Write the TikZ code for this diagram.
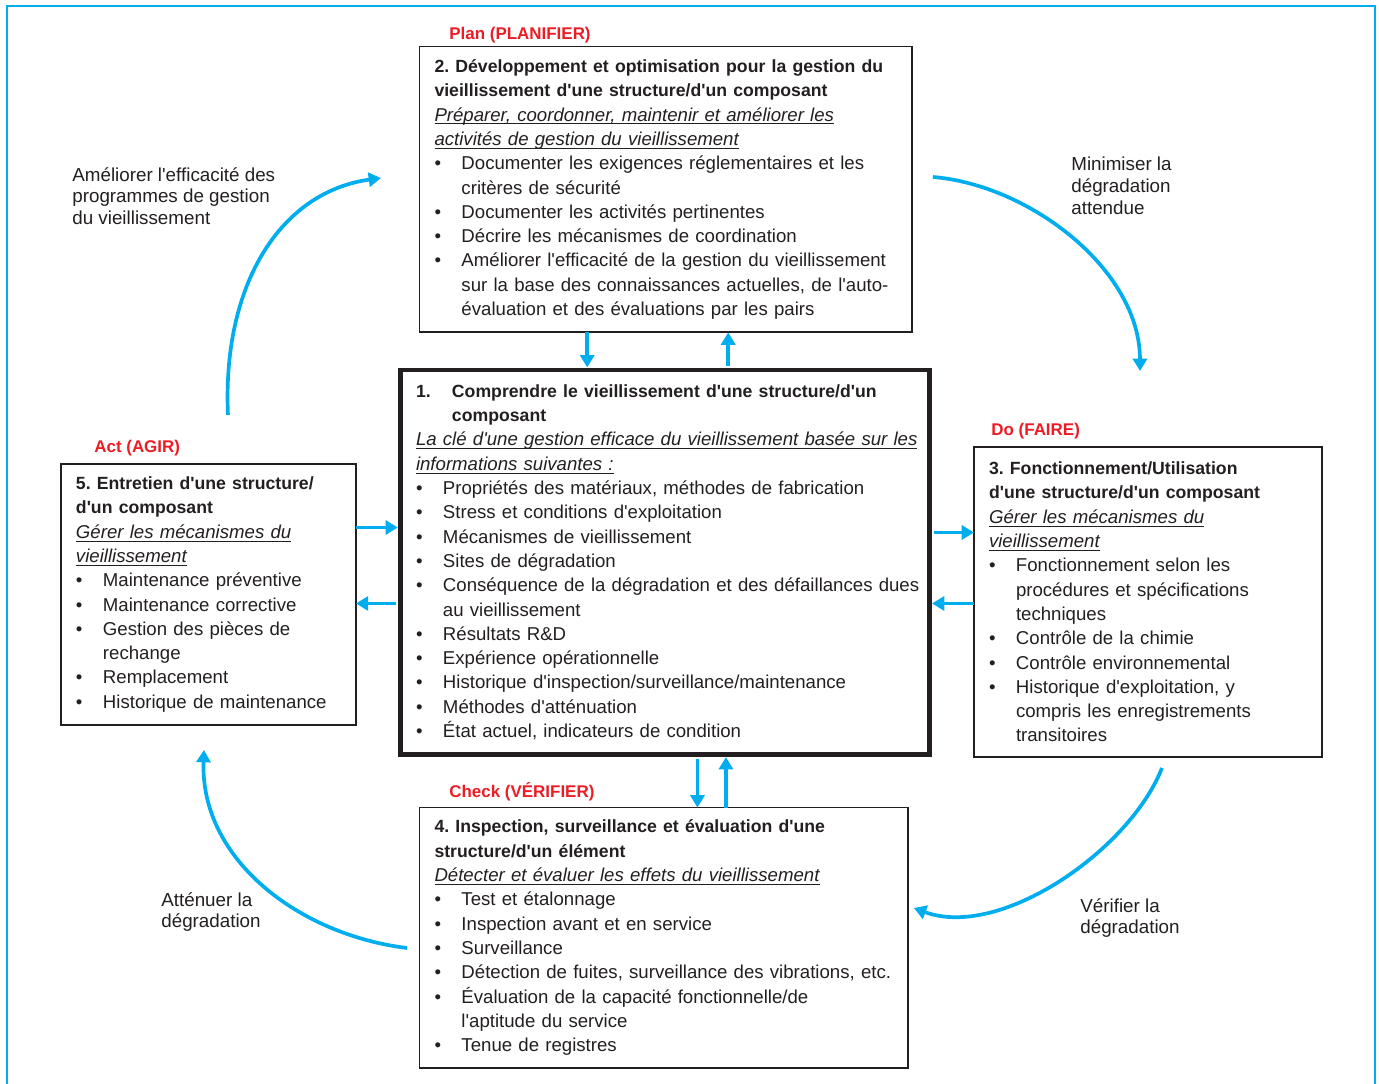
\documentclass[tikz,border=0pt]{standalone}
\usepackage{fontspec}
\setmainfont{Liberation Sans}[Ligatures=TeXOff]
\usetikzlibrary{arrows.meta}

\definecolor{pdcablau}{HTML}{00AEEF}
\definecolor{pdcarot}{HTML}{ED1C24}
\definecolor{textgrau}{HTML}{231F20}

\newcommand{\punkt}{\par\noindent\hangindent=0.54cm\hangafter=1\makebox[0.54cm][l]{\textbullet}}
\newcommand{\titel}[1]{{\fontsize{10.05}{13.83}\selectfont\bfseries #1}}
\newcommand{\ziel}[1]{\leavevmode\setbox0\hbox{\textit{#1}}\rlap{\rule[-1.9pt]{\wd0}{0.55pt}}\box0\par}

\begin{document}
\begin{tikzpicture}[x=0.02cm, y=-0.02cm,
		kasten/.style={draw=textgrau, line width=1.1pt, outer sep=0pt, inner xsep=0.3cm,
			inner ysep=0pt, anchor=north west, align=left, text=textgrau,
			font=\fontsize{10.6}{13.83}\selectfont\frenchspacing,
			execute at begin node={\rightskip=-0.25cm plus 1fil\relax}},
		phase/.style={anchor=base west, inner sep=0pt, text=pdcarot,
			font=\fontsize{9.65}{12}\selectfont\bfseries},
		notiz/.style={anchor=north west, inner sep=0pt, align=left, text=textgrau,
			font=\fontsize{10.7}{12.25}\selectfont},
		pfeil/.style={draw=pdcablau, line width=2.1pt, -{Triangle[length=7pt,width=8pt]}}]
	\useasboundingbox (0,0) rectangle (1379,1083);
	% Rahmen
	\draw[pdcablau, line width=0.8pt] (7,1090) |- (1375,6) -- (1375,1090);

	% Kaesten
	\node[kasten, text width=9.25cm, minimum height=5.72cm] (planifier) at (419.5,46.5) {%
		\titel{2. Développement et optimisation pour la gestion du\\
		vieillissement d'une structure/d'un composant}\par
		\ziel{Préparer, coordonner, maintenir et améliorer les}
		\ziel{activités de gestion du vieillissement}
		\punkt Documenter les exigences réglementaires et les\newline critères de sécurité
		\punkt Documenter les activités pertinentes
		\punkt Décrire les mécanismes de coordination
		\punkt Améliorer l'efficacité de la gestion du vieillissement\newline
		sur la base des connaissances actuelles, de l'auto-\newline
		évaluation et des évaluations par les pairs\par};
	\node[kasten, line width=2.8pt, inner xsep=0.31cm, text width=9.96cm, minimum height=7.69cm]
		(comprendre) at (400.5,370) {%
		\noindent\hangindent=0.72cm\hangafter=1\makebox[0.72cm][l]{\titel{1.}}%
		\titel{Comprendre le vieillissement d'une structure/d'un\newline composant}\par
		\ziel{La clé d'une gestion efficace du vieillissement basée sur les}
		\ziel{informations suivantes :}
		\punkt Propriétés des matériaux, méthodes de fabrication
		\punkt Stress et conditions d'exploitation
		\punkt Mécanismes de vieillissement
		\punkt Sites de dégradation
		\punkt Conséquence de la dégradation et des défaillances dues\newline au vieillissement
		\punkt Résultats R\&D
		\punkt Expérience opérationnelle
		\punkt Historique d'inspection/surveillance/maintenance
		\punkt Méthodes d'atténuation
		\punkt État actuel, indicateurs de condition\par};
	\node[kasten, text width=6.36cm, minimum height=6.2cm] (faire) at (974,447) {%
		\titel{3. Fonctionnement/Utilisation\\
		d'une structure/d'un composant}\par
		\ziel{Gérer les mécanismes du}
		\ziel{vieillissement}
		\punkt Fonctionnement selon les\newline procédures et spécifications\newline techniques
		\punkt Contrôle de la chimie
		\punkt Contrôle environnemental
		\punkt Historique d'exploitation, y\newline compris les enregistrements\newline transitoires\par};
	\node[kasten, text width=9.17cm, minimum height=5.21cm] (verifier) at (419.5,807.5) {%
		\titel{4. Inspection, surveillance et évaluation d'une\\
		structure/d'un élément}\par
		\ziel{Détecter et évaluer les effets du vieillissement}
		\punkt Test et étalonnage
		\punkt Inspection avant et en service
		\punkt Surveillance
		\punkt Détection de fuites, surveillance des vibrations, etc.
		\punkt Évaluation de la capacité fonctionnelle/de\newline l'aptitude du service
		\punkt Tenue de registres\par};
	\node[kasten, text width=5.3cm, minimum height=5.22cm] (agir) at (61,464) {%
		\titel{5. Entretien d'une structure/\\
		d'un composant}\par
		\ziel{Gérer les mécanismes du}
		\ziel{vieillissement}
		\punkt Maintenance préventive
		\punkt Maintenance corrective
		\punkt Gestion des pièces de\newline rechange
		\punkt Remplacement
		\punkt Historique de maintenance\par};

	% Phasen
	\node[phase] (plan) at (449,39) {Plan (PLANIFIER)};
	\node[phase] (act) at (94,452) {Act (AGIR)};
	\node[phase] (do) at (991,435) {Do (FAIRE)};
	\node[phase] (check) at (449,797) {Check (VÉRIFIER)};

	% Notizen
	\node[notiz] (ameliorer) at (72,167) {Améliorer l'efficacité des\\programmes de gestion\\du vieillissement};
	\node[notiz] (minimiser) at (1071,157) {Minimiser la\\dégradation\\attendue};
	\node[notiz] (verifier-note) at (1080,898) {Vérifier la\\dégradation};
	\node[notiz] (attenuer) at (161,892) {Atténuer la\\dégradation};

	% Pfeile
	\draw[pfeil, shorten >=1.5pt] ([xshift=-1.57cm]planifier.south) -- ([xshift=-1.57cm]planifier.south |- comprendre.north);
	\draw[pfeil, shorten <=2.5pt] ([xshift=1.25cm]planifier.south |- comprendre.north) -- ([xshift=1.25cm]planifier.south);
	\draw[pfeil, shorten <=2.5pt] ([xshift=0.65cm]comprendre.south) -- ([xshift=0.65cm]comprendre.south |- verifier.north);
	\draw[pfeil, shorten >=1.5pt] ([xshift=1.22cm]comprendre.south |- verifier.north) -- ([xshift=1.22cm]comprendre.south);
	\draw[pfeil, shorten >=1.5pt] ([yshift=1.34cm]agir.east) -- ([yshift=1.34cm]agir.east -| comprendre.west);
	\draw[pfeil, shorten <=2.5pt] ([yshift=-0.18cm]agir.east -| comprendre.west) -- ([yshift=-0.18cm]agir.east);
	\draw[pfeil, shorten <=2.5pt] ([yshift=1.39cm]faire.west -| comprendre.east) -- ([yshift=1.39cm]faire.west);
	\draw[pfeil, shorten >=1.5pt] ([yshift=-0.03cm]faire.west) -- ([yshift=-0.03cm]faire.west -| comprendre.east);

	% Kreislauf
	\draw[pfeil] ([shift={(19.5,-49)}]agir.north) .. controls (222,285) and (280,192) .. ([shift={(-38.5,-11.5)}]planifier.west);
	\draw[pfeil] ([shift={(21,-12.5)}]planifier.east) .. controls (1030,185) and (1140,270) .. ([shift={(-8,-76)}]faire.north);
	\draw[pfeil] ([shift={(14,11)}]faire.south) .. controls (1130,850) and (1000,940) .. ([shift={(6,-29.75)}]verifier.east);
	\draw[pfeil] ([shift={(-12.5,10.25)}]verifier.west) .. controls (300,935) and (200,860) .. ([shift={(-4.5,25)}]agir.south);
\end{tikzpicture}
\end{document}
